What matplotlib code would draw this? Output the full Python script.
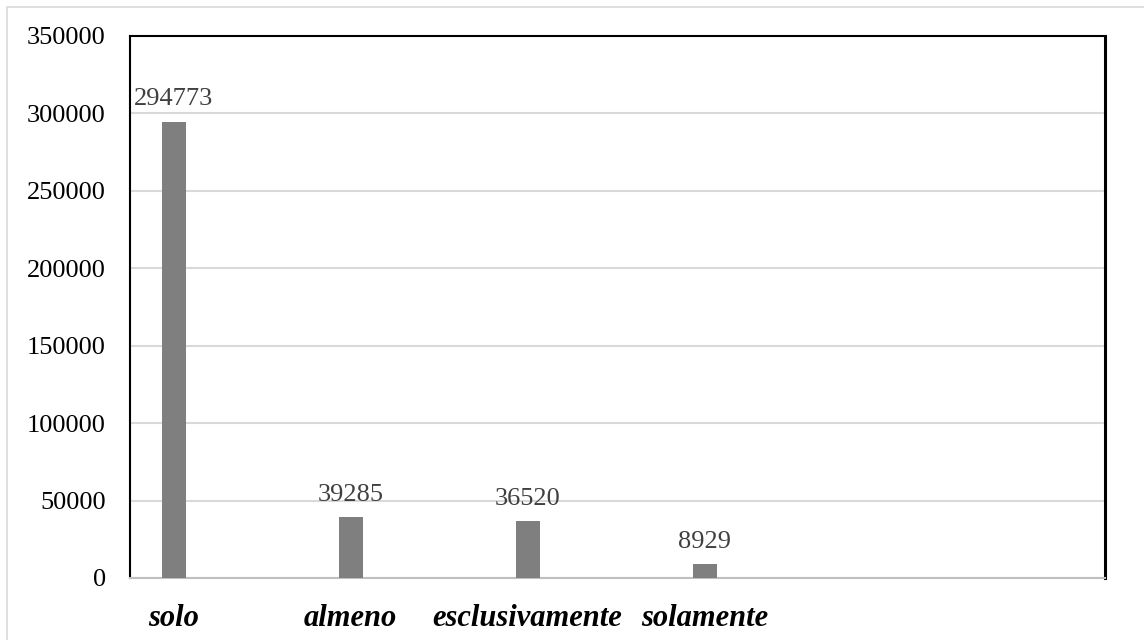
import matplotlib
matplotlib.use("Agg")
import matplotlib.pyplot as plt
from matplotlib.patches import Rectangle

categories = ["solo", "almeno", "esclusivamente", "solamente"]
values = [294773, 39285, 36520, 8929]
yticks = [0, 50000, 100000, 150000, 200000, 250000, 300000, 350000]

plt.rcParams['font.family'] = ['Liberation Serif', 'DejaVu Serif']

fig = plt.figure(figsize=(11.44, 6.4), dpi=100)
fig.patch.set_facecolor('white')
# outer light frame
fig.patches.append(Rectangle((7/1144, -0.05), 1.2, 1 - 7/640 + 0.05, transform=fig.transFigure,
                             fill=False, edgecolor='#d9d9d9', linewidth=1.2, zorder=0))

ax = fig.add_axes([129.5/1144, 1 - 578/640, (1104.5 - 129.5)/1144, (578 - 36)/640])
x = list(range(len(categories)))
bars = ax.bar(x, values, width=0.136, color='#7f7f7f', zorder=3)

ax.set_xlim(-0.25, 5.26)
ax.set_ylim(0, 350000)
ax.set_yticks(yticks)
ax.set_yticklabels([str(v) for v in yticks], fontsize=19, color='black')
ax.tick_params(axis='y', length=0, pad=17)
ax.set_xticks(x)
ax.set_xticklabels(categories, fontsize=22, fontweight='bold', fontstyle='italic', color='black')
ax.tick_params(axis='x', length=0, pad=19)

ax.grid(axis='y', color='#d9d9d9', linewidth=1.5, zorder=0)
ax.set_axisbelow(True)

for side in ['left', 'top']:
    ax.spines[side].set_color('black')
    ax.spines[side].set_linewidth(1.5)
ax.spines['right'].set_color('black')
ax.spines['right'].set_linewidth(2.2)
ax.spines['bottom'].set_color('#bfbfbf')
ax.spines['bottom'].set_linewidth(1.5)

for xi, v in zip(x, values):
    ax.annotate(str(v), (xi, v), xytext=(0, 8), textcoords='offset points',
                ha='center', va='bottom', fontsize=19, color='#404040')

fig.savefig('out.png', dpi=100, facecolor='white')
